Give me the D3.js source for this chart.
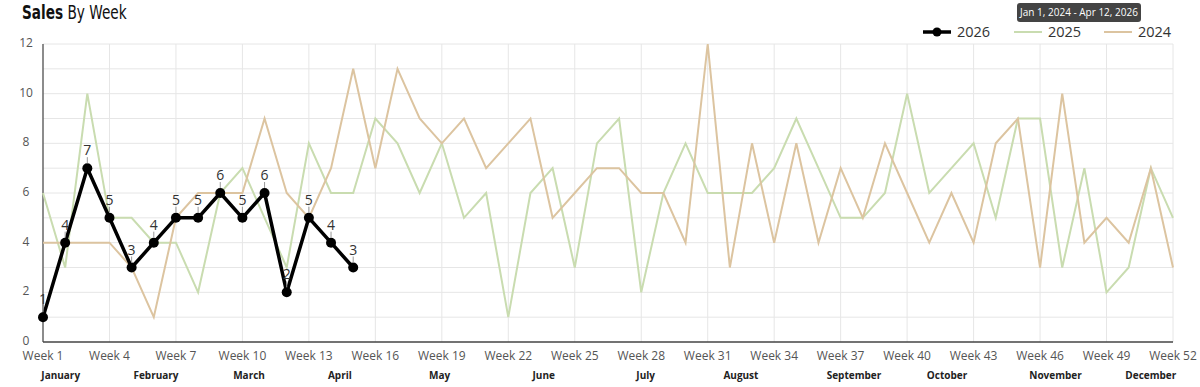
<!DOCTYPE html>
<html>
<head>
<meta charset="utf-8">
<script src="https://cdn.jsdelivr.net/npm/d3@7"></script>
<style>
  body { margin: 0; background: #fff; }
  svg { display: block; }
</style>
</head>
<body>
<div id="chart"></div>
<script>
// weekly sales
var weeks = d3.range(1, 53);
var sales2026 = [1, 4, 7, 5, 3, 4, 5, 5, 6, 5, 6, 2, 5, 4, 3];
var sales2025 = [6, 3, 10, 5, 5, 4, 4, 2, 6, 7, 5, 3, 8, 6, 6, 9, 8, 6, 8, 5, 6, 1, 6, 7, 3, 8,
                 9, 2, 6, 8, 6, 6, 6, 7, 9, 7, 5, 5, 6, 10, 6, 7, 8, 5, 9, 9, 3, 7, 2, 3, 7, 5];
var sales2024 = [4, 4, 4, 4, 3, 1, 5, 6, 6, 6, 9, 6, 5, 7, 11, 7, 11, 9, 8, 9, 7, 8, 9, 5, 6, 7,
                 7, 6, 6, 4, 12, 3, 8, 4, 8, 4, 7, 5, 8, 6, 4, 6, 4, 8, 9, 3, 10, 4, 5, 4, 7, 3];
var yTicks = [0, 2, 4, 6, 8, 10, 12];
var weekTicks = d3.range(1, 53, 3);
var months = ["January", "February", "March", "April", "May", "June", "July",
              "August", "September", "October", "November", "December"];
var monthWeeks = [1.8, 6.1, 10.3, 14.4, 18.9, 23.6, 28.2, 32.5, 37.6, 41.8, 46.7, 51.0];

var w = 1200, h = 387;
var green = "#c9dcb0", tan = "#dcc4a0";
var font = "Open Sans, sans-serif";

var svg = d3.select("#chart").append("svg")
    .attr("width", w)
    .attr("height", h);

var x = d3.scaleLinear().domain([1, 52]).range([43, 1173]);
var y = d3.scaleLinear().domain([0, 12]).range([342, 44]);

// title (narrowed to look like the condensed face of the original)
var title = svg.append("text")
    .attr("transform", "translate(22,19) scale(0.8,1)")
    .attr("font-family", "DejaVu Sans Condensed, DejaVu Sans, sans-serif")
    .attr("font-stretch", "condensed")
    .attr("font-size", "19px")
    .attr("fill", "#111");
title.append("tspan").attr("font-weight", "bold").text("Sales");
title.append("tspan").text(" By Week");

// date range badge
svg.append("rect")
    .attr("x", 1017).attr("y", 3)
    .attr("width", 124).attr("height", 19)
    .attr("rx", 3)
    .attr("fill", "#444");
svg.append("text")
    .attr("x", 1079).attr("y", 16)
    .attr("text-anchor", "middle")
    .attr("font-family", font)
    .attr("font-size", "10px")
    .attr("fill", "#fff")
    .text("Jan 1, 2024 - Apr 12, 2026");

// grid
svg.append("g").selectAll("line")
    .data(d3.range(1, 13))
    .enter().append("line")
    .attr("x1", x(1)).attr("x2", x(52))
    .attr("y1", function(d) { return y(d); })
    .attr("y2", function(d) { return y(d); })
    .attr("stroke", "#e6e6e6");
svg.append("g").selectAll("line")
    .data(weekTicks.slice(1))
    .enter().append("line")
    .attr("x1", function(d) { return x(d); })
    .attr("x2", function(d) { return x(d); })
    .attr("y1", y(12)).attr("y2", y(0))
    .attr("stroke", "#e6e6e6");

// axis lines
svg.append("line")
    .attr("x1", x(1)).attr("x2", x(1))
    .attr("y1", y(12)).attr("y2", y(0))
    .attr("stroke", "#666").attr("stroke-width", 1.5);
svg.append("line")
    .attr("x1", x(1)).attr("x2", x(52))
    .attr("y1", y(0)).attr("y2", y(0))
    .attr("stroke", "#444").attr("stroke-width", 1.5);

// y labels
svg.append("g").selectAll("text")
    .data(yTicks)
    .enter().append("text")
    .attr("x", 26)
    .attr("y", function(d) { return y(d) + 3; })
    .attr("text-anchor", "middle")
    .attr("font-family", font)
    .attr("font-size", "12px")
    .attr("fill", "#555")
    .text(function(d) { return d; });

// week labels
svg.append("g").selectAll("text")
    .data(weekTicks)
    .enter().append("text")
    .attr("x", function(d) { return x(d); })
    .attr("y", 360)
    .attr("text-anchor", "middle")
    .attr("font-family", font)
    .attr("font-size", "12px")
    .attr("fill", "#555")
    .text(function(d) { return "Week " + d; });

// month labels
svg.append("g").selectAll("text")
    .data(months)
    .enter().append("text")
    .attr("x", function(d, i) { return x(monthWeeks[i]); })
    .attr("y", 379)
    .attr("text-anchor", "middle")
    .attr("font-family", font)
    .attr("font-size", "10px")
    .attr("font-weight", "bold")
    .attr("fill", "#222")
    .text(function(d) { return d; });

var line = d3.line()
    .x(function(d, i) { return x(weeks[i]); })
    .y(function(d) { return y(d); });

svg.append("path")
    .datum(sales2025)
    .attr("d", line)
    .attr("fill", "none")
    .attr("stroke", green)
    .attr("stroke-width", 2);
svg.append("path")
    .datum(sales2024)
    .attr("d", line)
    .attr("fill", "none")
    .attr("stroke", tan)
    .attr("stroke-width", 2);
svg.append("path")
    .datum(sales2026)
    .attr("d", line)
    .attr("fill", "none")
    .attr("stroke", "#000")
    .attr("stroke-width", 3.5)
    .attr("stroke-linejoin", "round");

var pts = svg.append("g").selectAll("g")
    .data(sales2026)
    .enter().append("g");
pts.append("circle")
    .attr("cx", function(d, i) { return x(weeks[i]); })
    .attr("cy", function(d) { return y(d); })
    .attr("r", 5)
    .attr("fill", "#000");
pts.append("line")
    .attr("x1", function(d, i) { return x(weeks[i]); })
    .attr("x2", function(d, i) { return x(weeks[i]); })
    .attr("y1", function(d) { return y(d) - 5; })
    .attr("y2", function(d) { return y(d) - 11; })
    .attr("stroke", "#999");
pts.append("text")
    .attr("x", function(d, i) { return x(weeks[i]); })
    .attr("y", function(d) { return y(d) - 13; })
    .attr("text-anchor", "middle")
    .attr("font-family", font)
    .attr("font-size", "14px")
    .attr("fill", "#333")
    .text(function(d) { return d; });

// legend
var legend = [
    {name: "2026", color: "#000", x: 923, dot: true},
    {name: "2025", color: green, x: 1014, dot: false},
    {name: "2024", color: tan, x: 1104, dot: false}
];
var lg = svg.append("g").selectAll("g")
    .data(legend)
    .enter().append("g");
lg.append("line")
    .attr("x1", function(d) { return d.x; })
    .attr("x2", function(d) { return d.x + 28; })
    .attr("y1", 32).attr("y2", 32)
    .attr("stroke", function(d) { return d.color; })
    .attr("stroke-width", function(d) { return d.dot ? 3.5 : 2; });
lg.filter(function(d) { return d.dot; }).append("circle")
    .attr("cx", function(d) { return d.x + 14; })
    .attr("cy", 32)
    .attr("r", 4.5)
    .attr("fill", "#000");
lg.append("text")
    .attr("x", function(d) { return d.x + 34; })
    .attr("y", 37)
    .attr("font-family", font)
    .attr("font-size", "14.5px")
    .attr("fill", "#333")
    .text(function(d) { return d.name; });
</script>
</body>
</html>
